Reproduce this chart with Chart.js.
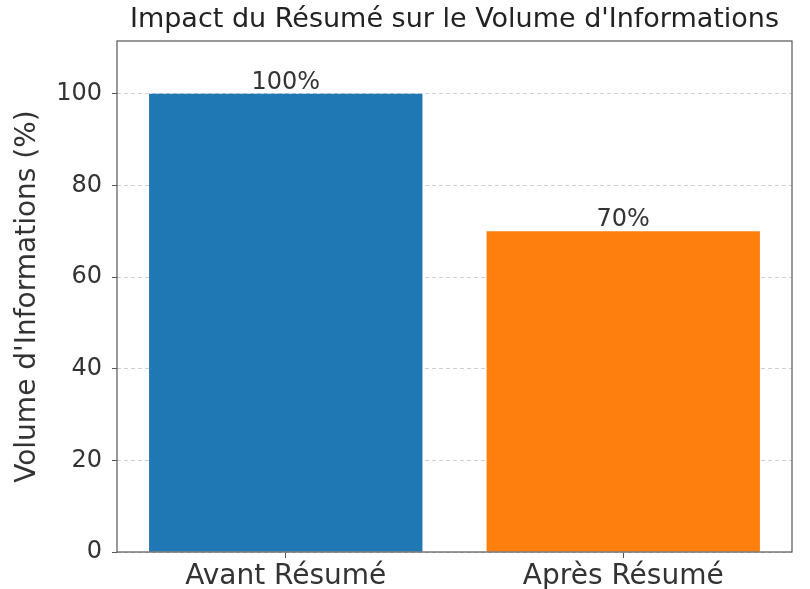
<!DOCTYPE html>
<html>
<head>
<meta charset="utf-8">
<script src="https://cdn.jsdelivr.net/npm/chart.js@4"></script>
<style>
  html, body { margin: 0; padding: 0; background: #fff; }
  #wrap { width: 810px; height: 589px; }
</style>
</head>
<body>
<div id="wrap"><canvas id="impactChart" width="810" height="589"></canvas></div>
<script>
// Data
const categories = ['Avant Résumé', 'Après Résumé'];
const volumes = [100, 70];
const barColors = ['#1f77b4', '#ff7f0e'];
const yTicks = [0, 20, 40, 60, 80, 100];

const FONT = "'DejaVu Sans', sans-serif";

// Frame around plot area + value labels above bars
const framePlugin = {
  id: 'frame',
  afterDraw(chart) {
    const { ctx, chartArea: a } = chart;
    ctx.save();
    ctx.strokeStyle = '#555';
    ctx.lineWidth = 1.2;
    ctx.strokeRect(a.left, a.top, a.right - a.left, a.bottom - a.top);
    const meta = chart.getDatasetMeta(0);
    ctx.fillStyle = '#333';
    ctx.font = '24px ' + FONT;
    ctx.textAlign = 'center';
    ctx.textBaseline = 'bottom';
    meta.data.forEach((bar, i) => {
      ctx.fillText(volumes[i] + '%', bar.x, bar.y + 1);
    });
    ctx.restore();
  }
};

const ctx = document.getElementById('impactChart').getContext('2d');
new Chart(ctx, {
  type: 'bar',
  data: {
    labels: categories,
    datasets: [{
      data: volumes,
      backgroundColor: barColors,
      borderWidth: 0,
      barPercentage: 1,
      categoryPercentage: 0.81
    }]
  },
  options: {
    responsive: false,
    animation: false,
    layout: { padding: { left: 0, right: 18, top: 0, bottom: 0 } },
    plugins: {
      legend: { display: false },
      tooltip: { enabled: false },
      title: {
        display: true,
        fullSize: false,
        text: "Impact du Résumé sur le Volume d'Informations",
        color: '#222',
        font: { family: FONT, size: 27, weight: 'normal' },
        padding: { top: 4, bottom: 4.6 }
      }
    },
    scales: {
      x: {
        afterFit: s => { s.height = 37; },
        grid: { display: true, offset: false, drawOnChartArea: false, tickLength: 6, tickColor: '#555' },
        border: { display: false },
        ticks: { color: '#333', font: { family: FONT, size: 28 }, padding: 2 }
      },
      y: {
        min: 0,
        max: 111.5,
        afterFit: s => { s.width = 117; },
        afterBuildTicks: s => { s.ticks = yTicks.map(v => ({ value: v })); },
        grid: {
          color: '#d0d0d0',
          lineWidth: 1,
          tickLength: 5,
          tickColor: '#555',
          tickBorderDash: []
        },
        border: { display: false, dash: [4, 3] },
        ticks: { color: '#333', font: { family: FONT, size: 24 }, padding: 10 },
        title: {
          display: true,
          text: "Volume d'Informations (%)",
          color: '#333',
          font: { family: FONT, size: 28 },
          padding: { top: 11, bottom: 6 }
        }
      }
    }
  },
  plugins: [framePlugin]
});
</script>
</body>
</html>
